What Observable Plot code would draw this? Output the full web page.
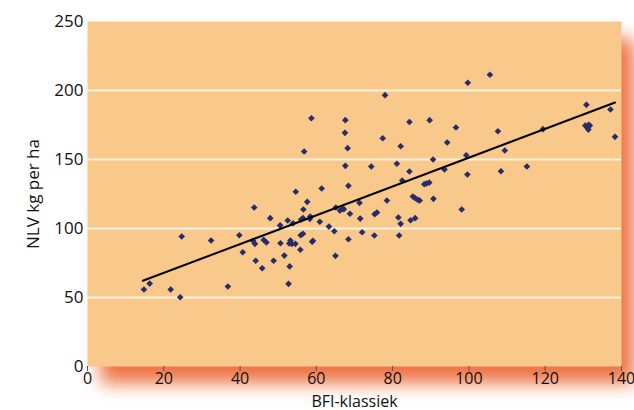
<!DOCTYPE html>
<html>
<head>
<meta charset="utf-8">
<script src="https://cdn.jsdelivr.net/npm/d3@7"></script>
<script src="https://cdn.jsdelivr.net/npm/@observablehq/plot@0.6"></script>
<style>
  html, body { margin: 0; padding: 0; background: #fff; }
  #chart svg { overflow: visible; display: block; }
  #chart [aria-label="frame"] { filter: drop-shadow(13px 17px 9px #ee7444); }
</style>
</head>
<body>
<div id="chart"></div>
<script>
const bfi = [14.8,16.3,21.8,24.3,24.7,32.4,36.8,39.8,40.7,43.7,43.4,43.9,46.2,46.9,44.1,45.8,47.9,48.8,50.5,50.6,
  51.6,52.5,52.7,53.0,52.9,53.2,53.6,53.9,54.5,54.6,55.8,55.9,56.5,56.0,56.5,56.6,56.8,57.6,58.3,58.4,
  58.7,58.9,59.1,60.9,61.4,63.3,64.7,65.0,65.1,66.2,66.9,67.2,67.5,67.6,67.6,68.2,68.4,68.4,68.8,71.3,
  71.5,72.0,74.4,75.2,75.3,75.9,77.4,78.0,78.5,81.1,81.5,81.7,82.1,82.1,82.5,84.4,84.4,84.7,85.9,85.3,
  85.9,86.6,87.1,88.3,88.9,89.6,89.7,90.6,90.7,93.6,94.3,96.6,98.1,99.3,99.6,99.7,105.5,107.6,108.4,109.4,
  115.2,119.4,130.8,130.5,131.0,131.4,131.3,131.7,137.1,138.3];
const nlv = [55.8,60.1,55.8,50.2,94.2,91.3,58.0,95.1,82.8,115.2,91.1,88.9,91.7,89.9,76.6,71.2,107.5,76.6,102.3,89.3,
  80.4,105.8,59.9,72.5,89.1,91.3,88.9,103.8,88.9,126.6,84.6,95.1,96.2,106.5,107.5,113.8,155.8,119.3,107.0,108.7,
  179.9,90.4,91.1,104.9,129.0,101.4,98.0,80.2,115.2,113.0,114.3,114.0,169.3,178.5,145.4,158.2,130.9,92.2,110.7,118.6,
  107.2,97.3,144.9,94.9,110.4,111.6,165.4,196.6,120.3,146.9,108.0,94.9,103.4,159.6,134.8,177.2,141.3,106.0,107.5,123.2,
  122.0,120.8,120.3,132.1,132.6,133.3,178.5,150.0,121.5,142.8,162.3,173.2,113.8,153.1,139.1,205.6,211.4,170.5,141.5,156.5,
  144.9,172.0,189.6,174.6,173.4,175.1,171.7,174.6,186.2,166.4];
const trendX = [14.5, 138.3];
const trendY = [62.1, 191.3];
const xTicks = [0, 20, 40, 60, 80, 100, 120, 140];
const yTicks = [0, 50, 100, 150, 200, 250];
const gridY = [50, 100, 150, 200];

const points = bfi.map((x, i) => ({x, y: nlv[i]}));
const trend = trendX.map((x, i) => ({x, y: trendY[i]}));

const chart = Plot.plot({
  width: 634,
  height: 410,
  marginLeft: 87,
  marginRight: 13,
  marginTop: 21,
  marginBottom: 44,
  style: {fontFamily: "'Open Sans', sans-serif", fontSize: "16px", color: "#111", background: "transparent"},
  x: {domain: [0, 140]},
  y: {domain: [0, 250]},
  marks: [
    Plot.frame({fill: "#f9c98b", stroke: null}),
    Plot.ruleY(gridY, {stroke: "#fdf1e0", strokeWidth: 2}),
    Plot.axisY({ticks: yTicks, tickSize: 0, tickPadding: 4, fontSize: 17, label: "NLV kg per ha", labelAnchor: "center", labelArrow: "none", labelOffset: 61}),
    Plot.axisX({ticks: xTicks, tickSize: 5, tickPadding: 1, fontSize: 16, stroke: "#555", label: "BFI-klassiek", labelAnchor: "center", labelArrow: "none", labelOffset: 40}),
    Plot.dot(points, {x: "x", y: "y", symbol: "diamond2", r: 3, fill: "#262c6c", stroke: null}),
    Plot.line(trend, {x: "x", y: "y", stroke: "#000", strokeWidth: 2})
  ]
});
document.getElementById("chart").append(chart);
</script>
</body>
</html>
